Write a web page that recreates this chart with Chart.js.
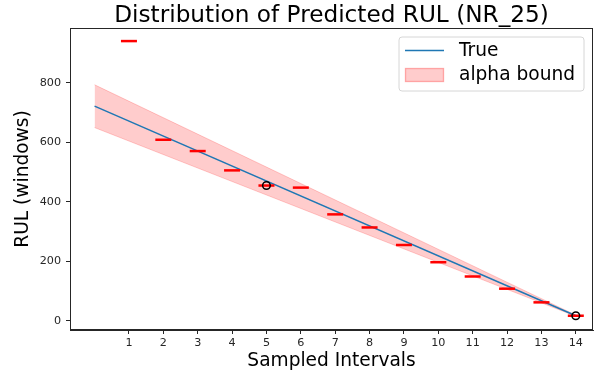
<!DOCTYPE html>
<html>
<head>
<meta charset="utf-8">
<script src="https://cdn.jsdelivr.net/npm/chart.js@4/dist/chart.umd.min.js"></script>
<style>
html,body{margin:0;padding:0;background:#fff;}
#wrap{width:595px;height:377px;}
</style>
</head>
<body>
<div id="wrap"><canvas id="c" width="595" height="377"></canvas></div>
<script>
// ---- data ----
const titleText = "Distribution of Predicted RUL (NR_25)";
const xLabel = "Sampled Intervals";
const yLabel = "RUL (windows)";
const xTicks = [1,2,3,4,5,6,7,8,9,10,11,12,13,14];
const yTicks = [0,200,400,600,800];
const predX = [1,2,3,4,5,6,7,8,9,10,11,12,13,14];
const predRUL = [941,609,571,506,455,448,358,314,255,197,149,108,62,17];
const trueX = [0,14];
const trueRUL = [722,17];
const boundUpper = [794,19];
const boundLower = [650,15];
const circleX = [5,14];
const circleRUL = [455,17];

const FONT = "'DejaVu Sans', sans-serif";

const frame = {
  id:'frame',
  afterDraw(chart){
    const {ctx, chartArea:a} = chart;
    ctx.save();
    // spines
    ctx.strokeStyle='#262626'; ctx.lineWidth=1;
    ctx.strokeRect(a.left+0.5, a.top+0.5, a.right-a.left-1, a.bottom-a.top-1);
    // title
    ctx.fillStyle='#000'; ctx.font="23.2px "+FONT;
    ctx.textAlign='center'; ctx.textBaseline='alphabetic';
    ctx.fillText(titleText, (a.left+a.right)/2, 22);
    // legend
    const lx=399, ly=37, lw=185, lh=54, r=3;
    ctx.beginPath();
    ctx.moveTo(lx+r,ly); ctx.lineTo(lx+lw-r,ly); ctx.quadraticCurveTo(lx+lw,ly,lx+lw,ly+r);
    ctx.lineTo(lx+lw,ly+lh-r); ctx.quadraticCurveTo(lx+lw,ly+lh,lx+lw-r,ly+lh);
    ctx.lineTo(lx+r,ly+lh); ctx.quadraticCurveTo(lx,ly+lh,lx,ly+lh-r);
    ctx.lineTo(lx,ly+r); ctx.quadraticCurveTo(lx,ly,lx+r,ly); ctx.closePath();
    ctx.fillStyle='rgba(255,255,255,0.8)'; ctx.fill();
    ctx.strokeStyle='#d6d6d6'; ctx.lineWidth=1; ctx.stroke();
    ctx.strokeStyle='#1f77b4'; ctx.lineWidth=1.5;
    ctx.beginPath(); ctx.moveTo(405,50.5); ctx.lineTo(444,50.5); ctx.stroke();
    ctx.fillStyle='rgba(255,0,0,0.2)'; ctx.fillRect(405,68,39,14);
    ctx.strokeStyle='rgba(255,0,0,0.2)'; ctx.strokeRect(405.5,68.5,38,13);
    ctx.fillStyle='#000'; ctx.font="18.6px "+FONT; ctx.textAlign='left'; ctx.textBaseline='middle';
    ctx.fillText('True', 459, 51);
    ctx.fillText('alpha bound', 459, 75);
    ctx.restore();
  }
};

new Chart(document.getElementById('c'), {
  type:'scatter',
  data:{
    datasets:[
      {label:'circles', data:circleX.map((x,i)=>({x, y:circleRUL[i]})), order:0,
       pointStyle:'circle', pointRadius:3.8, borderColor:'#000', backgroundColor:'rgba(0,0,0,0)', borderWidth:1.5, showLine:false},
      {label:'pred', data:predX.map((x,i)=>({x, y:predRUL[i]})), order:1,
       pointStyle:'line', pointRadius:8, borderColor:'#ff0000', backgroundColor:'#ff0000', borderWidth:2.5, showLine:false},
      {label:'True', data:trueX.map((x,i)=>({x, y:trueRUL[i]})), order:2,
       showLine:true, borderColor:'#1f77b4', borderWidth:1.5, pointRadius:0, fill:false},
      {label:'alpha bound', data:trueX.map((x,i)=>({x, y:boundUpper[i]})), order:3,
       showLine:true, borderColor:'rgba(255,0,0,0.2)', borderWidth:1, pointRadius:0,
       backgroundColor:'rgba(255,0,0,0.2)', fill:'+1'},
      {label:'lower', data:trueX.map((x,i)=>({x, y:boundLower[i]})), order:4,
       showLine:true, borderColor:'rgba(255,0,0,0.2)', borderWidth:1, pointRadius:0, fill:false}
    ]
  },
  options:{
    responsive:false, animation:false, devicePixelRatio:1,
    layout:{autoPadding:false, padding:{top:28, right:2, left:0, bottom:0}},
    plugins:{legend:{display:false}, title:{display:false}, tooltip:{enabled:false}},
    scales:{
      x:{type:'linear', min:-0.715, max:14.5,
         afterBuildTicks(s){ s.ticks = xTicks.map(v=>({value:v})); },
         afterFit(s){ s.height = 47; s.paddingLeft = 0; s.paddingRight = 0; },
         grid:{drawOnChartArea:false, drawTicks:true, tickLength:4, color:'#262626'},
         border:{display:true, color:'#262626', width:1},
         ticks:{color:'#262626', font:{family:FONT, size:11.2}, padding:2, maxRotation:0, autoSkip:false},
         title:{display:true, text:xLabel, color:'#000', font:{family:FONT, size:18.6}, padding:{top:0,bottom:5}}
      },
      y:{type:'linear', min:-31, max:985,
         afterBuildTicks(s){ s.ticks = yTicks.map(v=>({value:v})); },
         afterFit(s){ s.width = 70; s.paddingTop = 0; s.paddingBottom = 0; },
         grid:{drawOnChartArea:false, drawTicks:true, tickLength:4, color:'#262626'},
         border:{display:true, color:'#262626', width:1},
         ticks:{color:'#262626', font:{family:FONT, size:11.2}, padding:5, autoSkip:false},
         title:{display:true, text:yLabel, color:'#000', font:{family:FONT, size:18.6}, padding:{top:12,bottom:0}}
      }
    }
  },
  plugins:[frame]
});
</script>
</body>
</html>
